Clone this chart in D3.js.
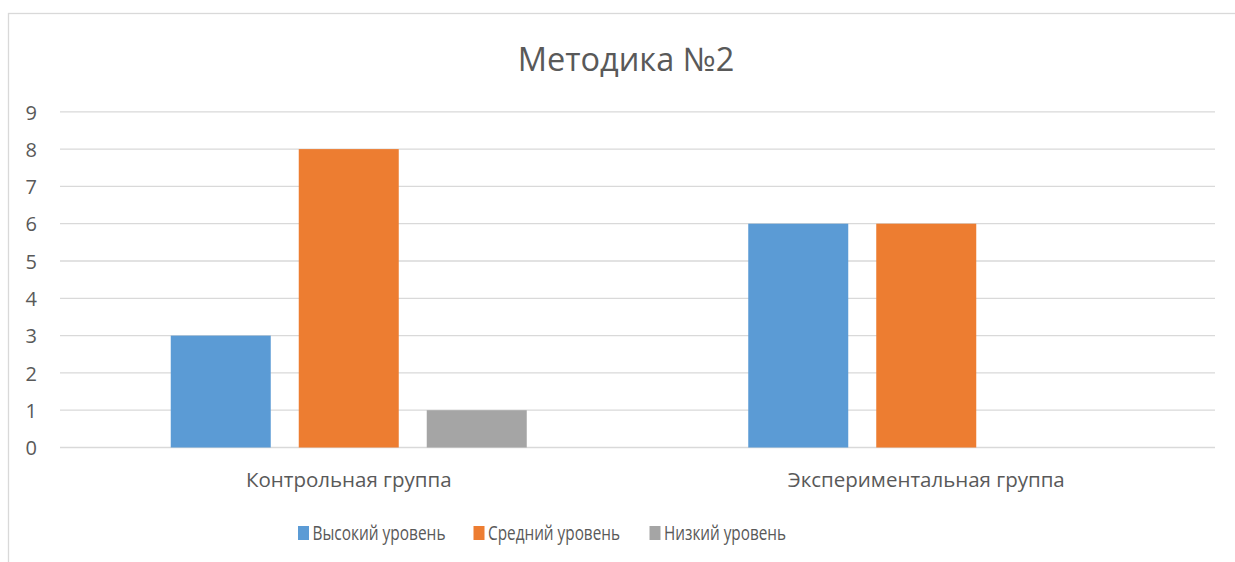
<!DOCTYPE html>
<html>
<head>
<meta charset="utf-8">
<script src="https://cdn.jsdelivr.net/npm/d3@7"></script>
<style>
  body { margin: 0; background: #fff; }
  svg { font-family: "Open Sans", "Noto Sans", sans-serif; }
</style>
</head>
<body>
<div class="chart"></div>
<script>
var width = 1235;
var height = 562;

var categories = ["Контрольная группа", "Экспериментальная группа"];
var seriesNames = ["Высокий уровень", "Средний уровень", "Низкий уровень"];
var seriesColors = ["#5b9bd5", "#ed7d31", "#a5a5a5"];
var highValues = [3, 6];
var midValues = [8, 6];
var lowValues = [1, 0];
var yTicks = [0, 1, 2, 3, 4, 5, 6, 7, 8, 9];

var seriesValues = [highValues, midValues, lowValues];

var svg = d3.select(".chart")
    .append("svg")
    .attr("width", width)
    .attr("height", height);

// chart frame
svg.append("rect")
    .attr("x", 8.5).attr("y", 13.5)
    .attr("width", 1240).attr("height", 560)
    .attr("fill", "#fff")
    .attr("stroke", "#d9d9d9")
    .attr("stroke-width", 1.3);

var x = d3.scaleBand().domain(categories).range([60, 1215]);
var xs = d3.scaleBand().domain(seriesNames).range([-178, 178]).paddingInner(0.21875);
var y = d3.scaleLinear().domain([0, 9]).range([447.5, 111.8]);

// grid
svg.append("g")
    .selectAll("line")
    .data(yTicks)
    .enter()
    .append("line")
    .attr("x1", 60).attr("x2", 1215)
    .attr("y1", d => y(d)).attr("y2", d => y(d))
    .attr("stroke", "#d9d9d9")
    .attr("stroke-width", 1.3);

// y axis labels
var yAxis = d3.axisLeft(y).tickValues(yTicks).tickSize(0).tickPadding(0);
var yg = svg.append("g").attr("transform", "translate(37,0)").call(yAxis);
yg.select(".domain").remove();
yg.selectAll("text")
    .attr("font-family", "Open Sans, sans-serif")
    .attr("font-size", "20px")
    .attr("fill", "#595959")
    .attr("dy", "0.36em");

// bars
var rows = [];
seriesNames.forEach(function(s, i) {
    categories.forEach(function(c, j) {
        rows.push({cat: c, series: s, value: seriesValues[i][j], color: seriesColors[i]});
    });
});

svg.append("g")
    .selectAll("rect")
    .data(rows.filter(d => d.value > 0))
    .enter()
    .append("rect")
    .attr("x", d => x(d.cat) + x.bandwidth() / 2 + xs(d.series))
    .attr("y", d => y(d.value))
    .attr("width", xs.bandwidth())
    .attr("height", d => y(0) - y(d.value))
    .attr("fill", d => d.color);

// x axis labels
var xAxis = d3.axisBottom(x).tickSize(0).tickPadding(0);
var xg = svg.append("g").attr("transform", "translate(0,486.7)").call(xAxis);
xg.select(".domain").remove();
xg.selectAll("text")
    .attr("font-family", "Open Sans, sans-serif")
    .attr("font-size", "20.5px")
    .attr("fill", "#595959")
    .attr("dy", "0");

// title
svg.append("text")
    .attr("x", 626).attr("y", 70.7)
    .attr("text-anchor", "middle")
    .attr("font-size", "32.5px")
    .attr("fill", "#595959")
    .text("Методика №2");

// legend
var legendX = [298, 473.5, 649.5];
var legendTextW = [133, 132, 122];
var leg = svg.append("g")
    .selectAll("g")
    .data(seriesNames)
    .enter()
    .append("g")
    .attr("transform", (d, i) => "translate(" + legendX[i] + ",540)");
leg.append("rect")
    .attr("x", 0).attr("y", -14)
    .attr("width", 11).attr("height", 14)
    .attr("fill", (d, i) => seriesColors[i]);
leg.append("text")
    .attr("x", 14.5).attr("y", 0)
    .attr("font-size", "20.5px")
    .attr("fill", "#595959")
    .attr("textLength", (d, i) => legendTextW[i])
    .attr("lengthAdjust", "spacingAndGlyphs")
    .text(d => d);
</script>
</body>
</html>
